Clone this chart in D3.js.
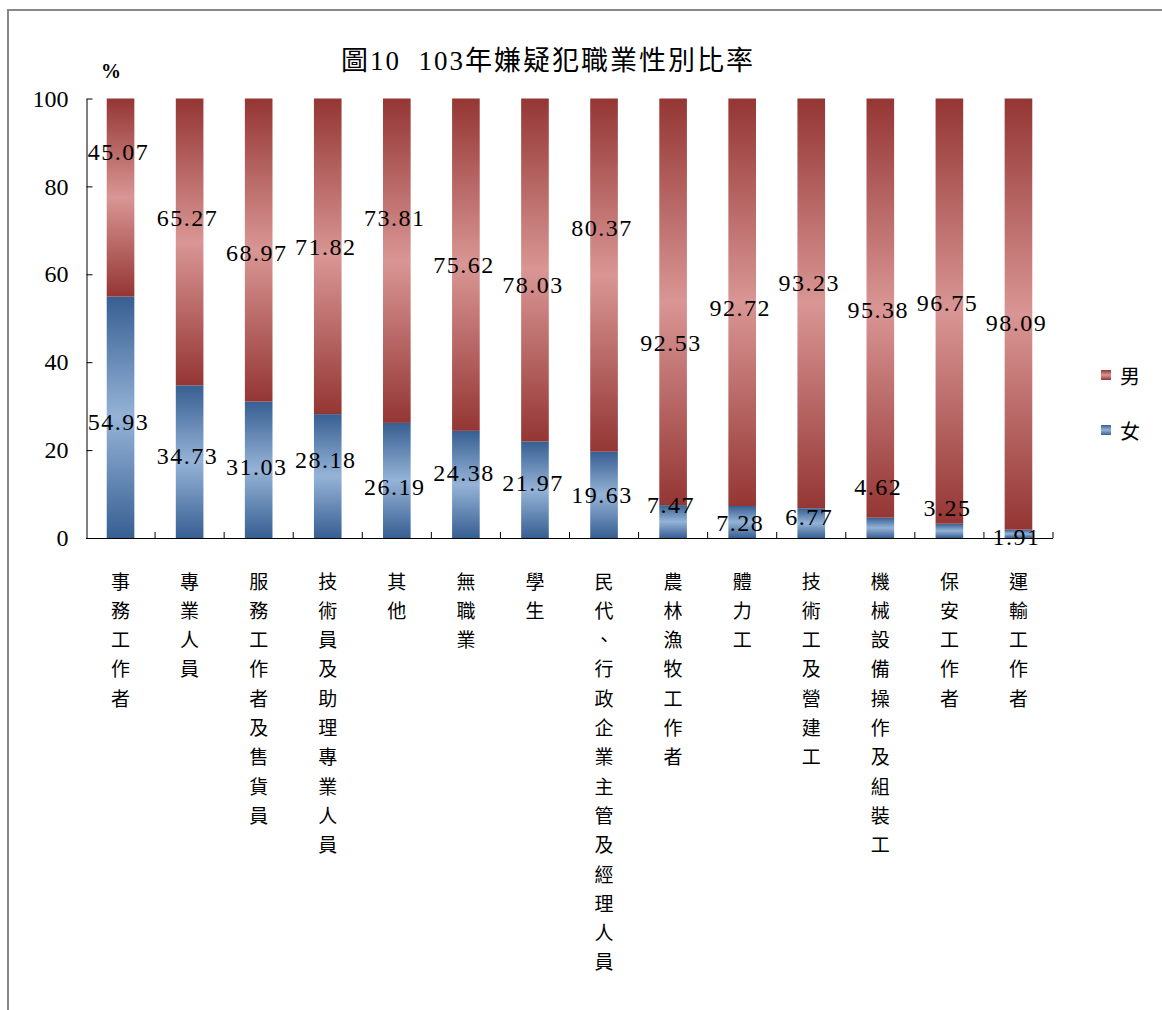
<!DOCTYPE html>
<html lang="zh-Hant">
<head>
<meta charset="utf-8">
<title>圖10 103年嫌疑犯職業性別比率</title>
<script src="https://d3js.org/d3.v7.min.js"></script>
<style>
  html, body { margin: 0; padding: 0; background: #fff; }
  svg { display: block; }
</style>
</head>
<body>
<script>
// data
var categories = ["事務工作者", "專業人員", "服務工作者及售貨員", "技術員及助理專業人員", "其他",
                  "無職業", "學生", "民代、行政企業主管及經理人員", "農林漁牧工作者", "體力工",
                  "技術工及營建工", "機械設備操作及組裝工", "保安工作者", "運輸工作者"];
var female = [54.93, 34.73, 31.03, 28.18, 26.19, 24.38, 21.97, 19.63, 7.47, 7.28, 6.77, 4.62, 3.25, 1.91];
var male   = [45.07, 65.27, 68.97, 71.82, 73.81, 75.62, 78.03, 80.37, 92.53, 92.72, 93.23, 95.38, 96.75, 98.09];
// where the data labels sit, in axis units (they were hand placed in the original)
var maleLabelAt   = [87.8, 72.8, 64.8, 66.2, 72.8, 62.1, 57.6, 70.5, 44.4, 52.3, 58.0, 51.9, 53.5, 48.9];
var femaleLabelAt = [26.4, 18.7, 16.2, 17.7, 11.6, 14.8, 12.5, 9.8, 7.5, 3.4, 4.8, 11.6, 6.8, 0.3];
var yTicks = [0, 20, 40, 60, 80, 100];
var title = "圖10  103年嫌疑犯職業性別比率";

var W = 1162, H = 1010;
var numFont = "'Liberation Serif', 'DejaVu Serif', serif";
var cjkFont = "'Noto Sans CJK TC', 'Noto Sans', sans-serif";

var svg = d3.select("body").append("svg")
    .attr("width", W)
    .attr("height", H);

// gradients: dark edges, light middle
var defs = svg.append("defs");
function grad(id, dark, light) {
  var g = defs.append("linearGradient")
      .attr("id", id)
      .attr("x1", 0).attr("y1", 0).attr("x2", 0).attr("y2", 1);
  g.append("stop").attr("offset", "0%").attr("stop-color", dark);
  g.append("stop").attr("offset", "50%").attr("stop-color", light);
  g.append("stop").attr("offset", "100%").attr("stop-color", dark);
}
grad("gMale", "#943634", "#d99694");
grad("gFemale", "#375f92", "#95b3d7");

// frame
svg.append("path")
    .attr("d", "M8," + H + "V10H" + W)
    .attr("fill", "none")
    .attr("stroke", "#888")
    .attr("stroke-width", 2);

var x = d3.scaleBand()
    .domain(categories)
    .range([86, 1053])
    .paddingInner(0.6)
    .paddingOuter(0.3);

var y = d3.scaleLinear()
    .domain([0, 100])
    .range([538, 98.5]);

// title
svg.append("text")
    .attr("x", 548)
    .attr("y", 61)
    .attr("text-anchor", "middle")
    .attr("dominant-baseline", "central")
    .attr("font-family", "'Liberation Serif', 'Noto Sans CJK TC', serif")
    .attr("font-size", 27)
    .attr("letter-spacing", 2)
    .attr("style", "white-space:pre")
    .text(title);

svg.append("text")
    .attr("x", 111)
    .attr("y", 71)
    .attr("text-anchor", "middle")
    .attr("dominant-baseline", "central")
    .attr("font-family", numFont)
    .attr("font-size", 20)
    .attr("font-weight", "bold")
    .text("%");

// bars
var bars = svg.append("g");
bars.selectAll("rect.female")
  .data(categories)
  .enter().append("rect")
    .attr("class", "female")
    .attr("x", function(d) { return x(d); })
    .attr("width", x.bandwidth())
    .attr("y", function(d, i) { return y(female[i]); })
    .attr("height", function(d, i) { return y(0) - y(female[i]); })
    .attr("fill", "url(#gFemale)");

bars.selectAll("rect.male")
  .data(categories)
  .enter().append("rect")
    .attr("class", "male")
    .attr("x", function(d) { return x(d); })
    .attr("width", x.bandwidth())
    .attr("y", function(d, i) { return y(female[i] + male[i]); })
    .attr("height", function(d, i) { return y(female[i]) - y(female[i] + male[i]); })
    .attr("fill", "url(#gMale)");

// y axis, ticks pointing inward
var yAxis = svg.append("g")
    .attr("transform", "translate(86.5,0)")
    .call(d3.axisLeft(y).tickValues(yTicks).tickSizeInner(-6).tickSizeOuter(0).tickPadding(18));
yAxis.select(".domain").attr("stroke", "#000");
yAxis.selectAll(".tick line").attr("stroke", "#000");
yAxis.selectAll(".tick text")
    .attr("font-family", numFont)
    .attr("font-size", 24)
    .attr("fill", "#000");

// x axis with category-boundary ticks
var step = x.step();
var bounds = categories.map(function(c) { return x(c) - (step - x.bandwidth()) / 2; });
bounds.push(bounds[bounds.length - 1] + step);
var xAxis = svg.append("g");
xAxis.append("line")
    .attr("x1", 86).attr("x2", bounds[bounds.length - 1])
    .attr("y1", y(0) + 0.5).attr("y2", y(0) + 0.5)
    .attr("stroke", "#000");
xAxis.selectAll("line.tk")
  .data(bounds.slice(1))
  .enter().append("line")
    .attr("class", "tk")
    .attr("x1", function(d) { return d; })
    .attr("x2", function(d) { return d; })
    .attr("y1", y(0))
    .attr("y2", y(0) - 6)
    .attr("stroke", "#000");

// vertical category labels
var cat = svg.append("g").selectAll("text")
  .data(categories)
  .enter().append("text")
    .attr("font-family", cjkFont)
    .attr("font-size", 19)
    .attr("fill", "#000")
    .attr("text-anchor", "middle");
cat.each(function(d) {
  var t = d3.select(this);
  var cx = x(d) + x.bandwidth() / 2;
  Array.from(d).forEach(function(ch, k) {
    t.append("tspan")
      .attr("x", cx)
      .attr("y", 580 + k * 29.3)
      .attr("dominant-baseline", "central")
      .text(ch);
  });
});

// data labels
function labels(vals, at) {
  svg.append("g").selectAll("text")
    .data(categories)
    .enter().append("text")
      .attr("x", function(d) { return x(d) + x.bandwidth() / 2 - 2; })
      .attr("y", function(d, i) { return y(at[i]); })
      .attr("text-anchor", "middle")
      .attr("dominant-baseline", "central")
      .attr("font-family", numFont)
      .attr("font-size", 24)
      .attr("letter-spacing", 1.5)
      .attr("fill", "#000")
      .text(function(d, i) { return vals[i].toFixed(2); });
}
labels(male, maleLabelAt);
labels(female, femaleLabelAt);

// legend
var legend = svg.append("g").selectAll("g")
  .data([["男", "url(#gMale)"], ["女", "url(#gFemale)"]])
  .enter().append("g")
    .attr("transform", function(d, i) { return "translate(1106," + (375 + i * 55) + ")"; });
legend.append("rect")
    .attr("x", -5).attr("y", -5)
    .attr("width", 10).attr("height", 10)
    .attr("fill", function(d) { return d[1]; });
legend.append("text")
    .attr("x", 14)
    .attr("dominant-baseline", "central")
    .attr("font-family", cjkFont)
    .attr("font-size", 20)
    .text(function(d) { return d[0]; });
</script>
</body>
</html>
